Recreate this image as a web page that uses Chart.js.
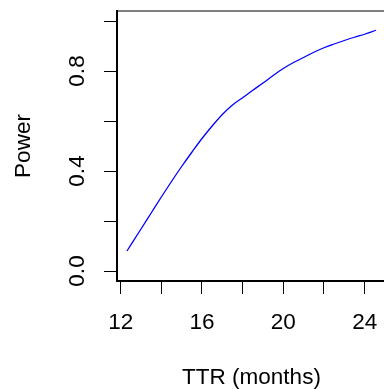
<!DOCTYPE html>
<html>
<head>
<meta charset="utf-8">
<script src="https://cdn.jsdelivr.net/npm/chart.js@4"></script>
<style>
  html, body { margin: 0; padding: 0; background: #fff; overflow: hidden; }
  #wrap { position: relative; width: 400px; height: 400px; }
</style>
</head>
<body>
<div id="wrap"><canvas id="powerChart"></canvas></div>
<script>
// Werte
const ttrMonths = [12.31, 13.0, 13.5, 14.0, 14.5, 15.0, 15.5, 16.0, 16.5, 17.0, 17.5, 18.0, 18.5,
                   19.0, 19.5, 20.0, 20.5, 21.0, 21.5, 22.0, 22.5, 23.0, 23.5, 24.0, 24.56];
const powerValues = [0.080, 0.168, 0.232, 0.296, 0.358, 0.418, 0.475, 0.530, 0.580, 0.626, 0.664, 0.693, 0.723,
                     0.752, 0.782, 0.810, 0.834, 0.854, 0.875, 0.893, 0.908, 0.922, 0.935, 0.947, 0.963];

// Achsen-Ticks (R zeigt nur jedes zweite Label)
const xTicks = [12, 14, 16, 18, 20, 22, 24];
const xTickLabels = ['12', '', '16', '', '20', '', '24'];
const yTicks = [0, 0.2, 0.4, 0.6, 0.8, 1.0];
const yTickLabels = ['0.0', '', '0.4', '', '0.8', ''];

const fontFamily = "'Liberation Sans', Arial, Helvetica, sans-serif";
const fontSize = 22.5;

// Rahmen um den Plotbereich (wie bty="o" in R)
const boxPlugin = {
    id: 'box',
    afterDraw(chart) {
        const { ctx, chartArea: a } = chart;
        ctx.save();
        ctx.strokeStyle = '#000';
        ctx.lineWidth = 1;
        ctx.strokeRect(a.left, a.top, a.right - a.left, a.bottom - a.top);
        ctx.restore();
    }
};

const points = ttrMonths.map((x, i) => ({ x: x, y: powerValues[i] }));

new Chart(document.getElementById('powerChart'), {
    type: 'line',
    data: {
        datasets: [{
            data: points,
            borderColor: '#0000ff',
            borderWidth: 1.3,
            pointRadius: 0,
            cubicInterpolationMode: 'monotone',
            fill: false
        }]
    },
    options: {
        responsive: true,
        maintainAspectRatio: false,
        animation: false,
        layout: { padding: { top: 11, right: 14, left: 0, bottom: 0 } },
        plugins: {
            legend: { display: false },
            tooltip: { enabled: false }
        },
        scales: {
            x: {
                type: 'linear',
                min: 11.82,
                max: 25.05,
                afterBuildTicks: s => { s.ticks = xTicks.map(v => ({ value: v })); },
                afterFit: s => { s.height = 119; s.paddingLeft = 0; s.paddingRight = 0; },
                grid: { drawOnChartArea: false, drawTicks: true, tickLength: 13, color: '#000', lineWidth: 1 },
                border: { display: true, color: '#000', width: 2 },
                ticks: {
                    padding: 15.3,
                    color: '#000',
                    font: { family: fontFamily, size: fontSize },
                    maxRotation: 0,
                    minRotation: 0,
                    autoSkip: false,
                    callback: (v, i) => xTickLabels[i]
                },
                title: {
                    display: true,
                    text: 'TTR (months)',
                    color: '#000',
                    font: { family: fontFamily, size: fontSize },
                    padding: { top: 0, bottom: 9.2 }
                }
            },
            y: {
                min: -0.04,
                max: 1.04,
                afterBuildTicks: s => { s.ticks = yTicks.map(v => ({ value: v })); },
                afterFit: s => { s.width = 117; s.paddingTop = 0; s.paddingBottom = 0; },
                grid: { drawOnChartArea: false, drawTicks: true, tickLength: 13, color: '#000', lineWidth: 1 },
                border: { display: true, color: '#000', width: 2 },
                ticks: {
                    padding: 10.6,
                    color: '#000',
                    font: { family: fontFamily, size: fontSize },
                    minRotation: 90,
                    maxRotation: 90,
                    crossAlign: 'center',
                    autoSkip: false,
                    callback: (v, i) => yTickLabels[i]
                },
                title: {
                    display: true,
                    text: 'Power',
                    color: '#000',
                    font: { family: fontFamily, size: fontSize },
                    padding: { top: 10.6, bottom: 0 }
                }
            }
        }
    },
    plugins: [boxPlugin]
});
</script>
</body>
</html>
